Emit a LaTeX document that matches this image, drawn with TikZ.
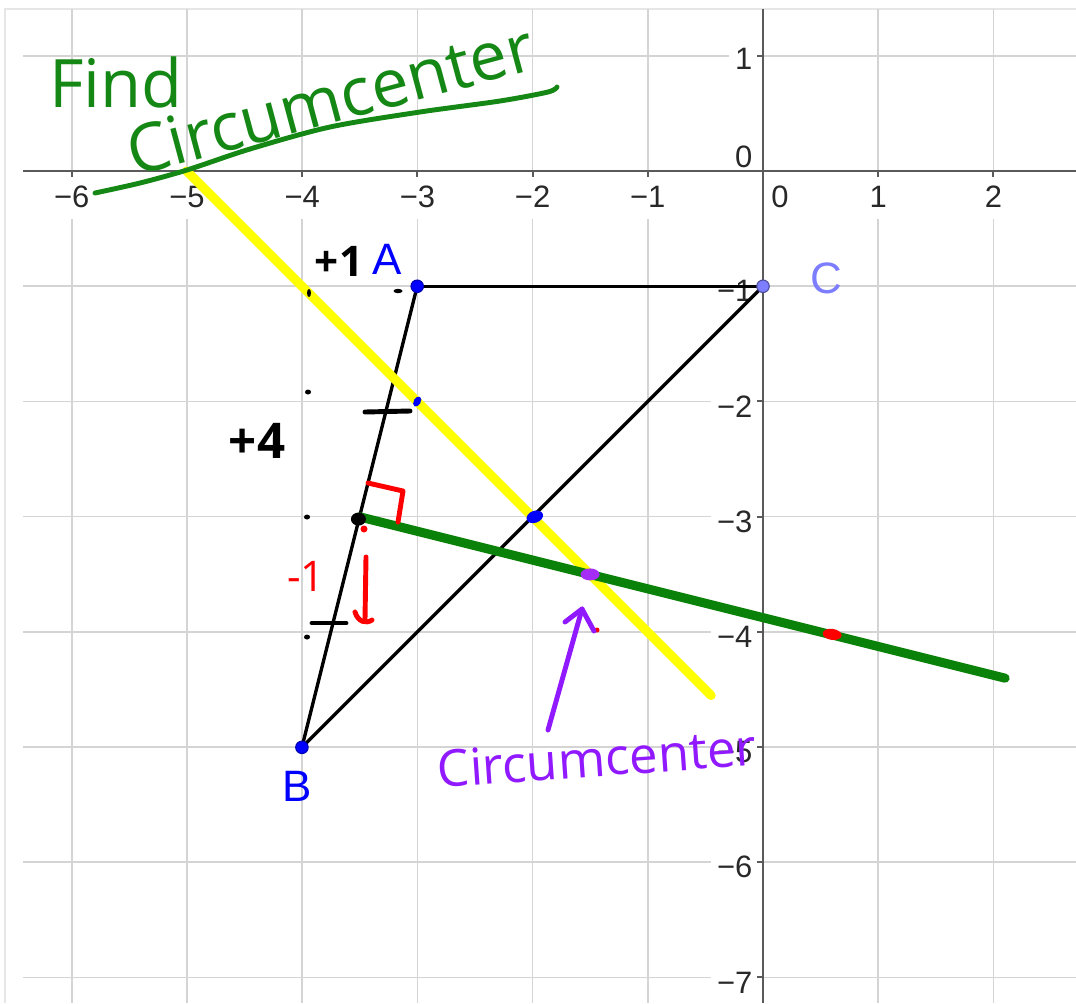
\documentclass[tikz,border=0pt]{standalone}
\usepackage{fontspec}
\setmainfont{Liberation Sans}
\newfontfamily\handfont{Open Sans}
\usetikzlibrary{shapes.geometric}
\definecolor{gridgray}{RGB}{212,212,212}
\definecolor{framegray}{RGB}{230,230,230}
\definecolor{axisgray}{RGB}{90,90,90}
\definecolor{labgray}{RGB}{40,40,40}
\definecolor{ggblue}{RGB}{0,0,255}
\definecolor{cblue}{RGB}{125,125,255}
\definecolor{lineyellow}{RGB}{255,255,0}
\definecolor{linegreen}{RGB}{10,130,10}
\definecolor{handgreen}{RGB}{20,135,20}
\definecolor{handpurple}{RGB}{145,25,255}
\definecolor{dotpurple}{RGB}{165,45,245}
\definecolor{handred}{RGB}{255,0,0}
\begin{document}
\begin{tikzpicture}[x=0.01cm,y=-0.01cm,
  gridline/.style={draw=gridgray, line width=0.45pt},
  axisline/.style={draw=axisgray, line width=0.6pt},
  xlab/.style={fill=white, text=labgray, font=\fontsize{8.8}{10}\selectfont, inner xsep=0.04cm, inner ysep=0pt, minimum height=0.44cm},
  ylab/.style={fill=white, text=labgray, font=\fontsize{8.8}{10}\selectfont, anchor=east, inner xsep=0.06cm, inner ysep=0pt, minimum height=0.34cm},
  seg/.style={draw=black, line width=0.95pt, line cap=round},
  fatline/.style={line width=2.6pt, line cap=round},
  ptstyle/.style={circle, inner sep=0pt, minimum size=0.125cm},
  dotmark/.style={ellipse, inner sep=0pt},
  ptlabel/.style={font=\fontsize{12.5}{14}\selectfont},
  handstroke/.style={line width=1.4pt, line cap=round, line join=round},
  handtext/.style={font=\handfont\fontsize{18}{18}\selectfont, inner sep=0pt}
]
\useasboundingbox (0,0) rectangle (1076,1003);
\fill[white] (0,0) rectangle (1076,1003);
% frame
\draw[framegray, line width=0.45pt] (5,1003) -- (5,9) -- (1076,9);
% grid
\foreach \k in {-6,...,2}
  \draw[gridline] ({763+115.2*\k},9) -- ({763+115.2*\k},1003);
\foreach \k in {-7,...,1}
  \draw[gridline] (23,{171-115.2*\k}) -- (1076,{171-115.2*\k});
% axis labels
\foreach \k/\t [count=\i] in {-6/−6,-5/−5,-4/−4,-3/−3,-2/−2,-1/−1}
  \node[xlab] (xl\i) at ({763+115.2*\k},197) {\t};
\node[xlab] (xlzero) at (780,197) {0};
\node[xlab] (xlone) at ({763+115.2},197) {1};
\node[xlab] (xltwo) at ({763+230.4},197) {2};
\node[ylab] (ylone) at (759,59) {1};
\node[ylab] (ylzero) at (759,157) {0};
\foreach \k/\t [count=\i] in {-1/−1,-2/−2,-3/−3,-4/−4,-5/−5,-6/−6,-7/−7}
  \node[ylab] (yl\i) at (759,{176-115.2*\k}) {\t};
% axes
\draw[axisline] (23,171) -- (1076,171);
\draw[axisline] (763,9) -- (763,1003);
\foreach \k in {-6,...,-1,1,2}
  \draw[axisline] ({763+115.2*\k},171) -- ({763+115.2*\k},177);
\foreach \k in {-7,...,-1,1}
  \draw[axisline] (757,{171-115.2*\k}) -- (763,{171-115.2*\k});

% construction in graph units
\begin{scope}[shift={(763,171)}, x=1.152cm, y=1.152cm]
  \coordinate (pA) at (-3,-1);
  \coordinate (pB) at (-4,-5);
  \coordinate (pC) at (0,-1);
  \coordinate (yS) at (-5,0);
  \coordinate (yE) at (-0.45,-4.55);
  \coordinate (gS) at (-3.5,-3);
  \coordinate (gE) at (2.1,-4.4);
  \draw[seg] (pA) -- (pC);
  \draw[seg] (pA) -- (pB);
  \draw[seg] (pB) -- (pC);
  \draw[fatline, draw=lineyellow] (yS) -- (yE);
  \draw[fatline, draw=linegreen] (gS) -- (gE);
  \node[ptstyle, fill=ggblue, draw=ggblue!70!black, line width=0.3pt] (A) at (pA) {};
  \node[ptstyle, fill=ggblue, draw=ggblue!70!black, line width=0.3pt] (B) at (pB) {};
  \node[ptstyle, fill=cblue, draw=cblue!60!black, line width=0.3pt] (C) at (pC) {};
  \node[dotmark, fill=ggblue, minimum width=0.07cm, minimum height=0.11cm, rotate=-30] (mAC) at (-3.0,-2.0) {};
  \node[dotmark, fill=ggblue, minimum width=0.17cm, minimum height=0.12cm, rotate=20] (mBC) at (-1.98,-3.0) {};
  \node[dotmark, fill=black, minimum width=0.15cm, minimum height=0.13cm] (mAB) at (-3.51,-3.02) {};
  \node[dotmark, fill=dotpurple, minimum width=0.19cm, minimum height=0.12cm] (O) at (-1.5,-3.5) {};
  \node[dotmark, fill=handred, minimum width=0.19cm, minimum height=0.11cm, rotate=-8] (R) at (0.6,-4.02) {};
\end{scope}

% point labels
\node[ptlabel, text=ggblue] (labA) at (387,259) {A};
\node[ptlabel, text=ggblue] (labB) at (297,786) {B};
\node[ptlabel, text=cblue] (labC) at (826,278) {C};

% green handwriting
\node[handtext, text=handgreen, font=\handfont\fontsize{19}{19}\selectfont] (find) at (116,82) {Find};
\node[handtext, text=handgreen, font=\handfont\fontsize{19}{19}\selectfont, rotate=15] (circA) at (330,99) {Circumcenter};
\draw[handstroke, handgreen] plot[smooth] coordinates {(95,193) (140,183) (187,170) (250,149) (330,127) (420,112) (500,101) (548,92) (557,87)};

% black marks
\node[font=\handfont\bfseries\fontsize{12}{12}\selectfont, inner sep=0pt] (plusone) at (339,261) {+1};
\node[font=\handfont\bfseries\fontsize{14}{14}\selectfont, inner sep=0pt] (plusfour) at (257,441) {+4};
\fill[black] (309,293) ellipse [x radius=0.02cm, y radius=0.04cm];
\fill[black] (398,291) ellipse [x radius=0.045cm, y radius=0.022cm];
\fill[black] (308,392) ellipse [x radius=0.03cm, y radius=0.025cm];
\fill[black] (307,517) ellipse [x radius=0.03cm, y radius=0.025cm];
\fill[black] (307,637) ellipse [x radius=0.03cm, y radius=0.025cm];
\draw[handstroke, black] (365,412) -- (410,411);
\draw[handstroke, black] (312,623) -- (346,623);

% red marks
\draw[handstroke, handred] (368,483) -- (403,491) -- (398,522);
\fill[handred] (364,529) circle [radius=0.035cm];
\node[font=\handfont\fontsize{12}{12}\selectfont, text=handred, inner sep=0pt] (minusone) at (306,576) {-1};
\draw[handstroke, handred] (366,557) -- (365,619);
\draw[handstroke, handred] (355,612) .. controls (358,622) and (366,624) .. (372,620);
\fill[handred] (597,630) circle [radius=0.025cm];

% purple annotation
\coordinate (arrS) at (548,730);
\coordinate (arrE) at (582,609);
\draw[handstroke, handpurple] (arrS) -- (arrE);
\draw[handstroke, handpurple] (565,622) -- (arrE) -- (594,631);
\node[handtext, text=handpurple, font=\handfont\fontsize{14.5}{14.5}\selectfont, rotate=4] (circB) at (597,758) {Circumcenter};
\end{tikzpicture}
\end{document}
